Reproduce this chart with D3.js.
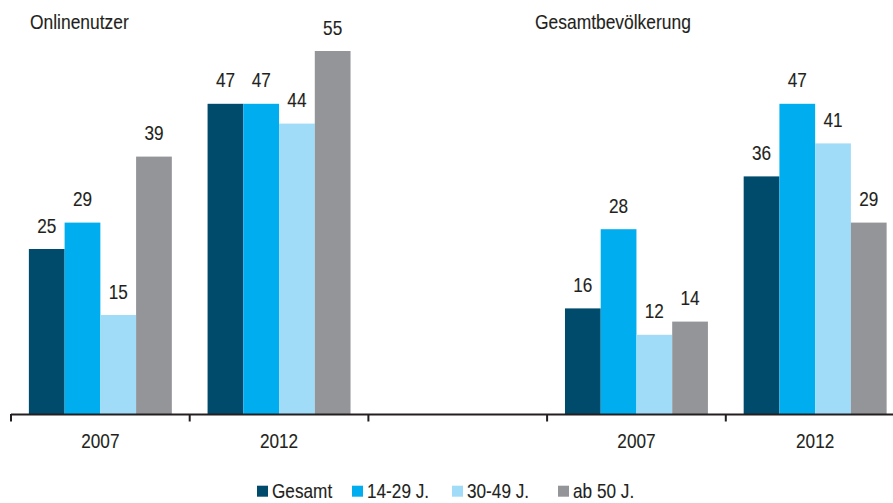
<!DOCTYPE html>
<html>
<head>
<meta charset="utf-8">
<script src="https://cdn.jsdelivr.net/npm/d3@7"></script>
<style>
  html, body { margin: 0; padding: 0; background: #fff; }
  svg { display: block; }
  text { font-family: "Liberation Sans", Arial, sans-serif; fill: #231f20; stroke: #231f20; stroke-width: 0.12px; }
</style>
</head>
<body>
<svg id="chart" width="893" height="503"></svg>
<script>
// ---- data ----
const slots = ["Online 2007", "Online 2012", "gap", "Gesamt 2007", "Gesamt 2012"];
const slotLabels = ["2007", "2012", "", "2007", "2012"];
const panelTitles = ["Onlinenutzer", "Gesamtbevölkerung"];
const seriesNames = ["Gesamt", "14-29 J.", "30-49 J.", "ab 50 J."];
const seriesColors = ["#004a6b", "#00aeef", "#a0dcf7", "#949599"];
const gesamt = [25, 47, null, 16, 36];
const age14_29 = [29, 47, null, 28, 47];
const age30_49 = [15, 44, null, 12, 41];
const ab50 = [39, 55, null, 14, 29];
const seriesValues = [gesamt, age14_29, age30_49, ab50];

// ---- layout ----
const svg = d3.select("#chart");
const W = 893, H = 503;
const baseY = 414;
const SX = 0.86;   // horizontal condensing of the text

const x = d3.scaleBand().domain(slots).range([11, 904.5]).paddingInner(0).paddingOuter(0);
const xs = d3.scaleBand().domain(seriesNames).range([0, x.bandwidth()]).paddingInner(0).paddingOuter(0.5);
const y = d3.scaleLinear().domain([0, 55]).range([baseY, 51]);

function place(sel, fx, fy, sx) {
  sel.attr("transform", (d, i) => `translate(${fx(d, i)},${fy(d, i)}) scale(${sx},1)`);
}

// bars
const rows = [];
slots.forEach((s, i) => {
  seriesNames.forEach((n, j) => {
    const v = seriesValues[j][i];
    if (v != null) rows.push({ slot: s, series: n, value: v, color: seriesColors[j] });
  });
});

const g = svg.append("g");
g.selectAll("rect.bar").data(rows).enter().append("rect")
  .attr("class", "bar")
  .attr("x", d => x(d.slot) + xs(d.series))
  .attr("width", xs.bandwidth())
  .attr("y", d => y(d.value))
  .attr("height", d => baseY - y(d.value))
  .attr("fill", d => d.color);

g.selectAll("text.val").data(rows).enter().append("text")
  .attr("class", "val")
  .attr("text-anchor", "middle")
  .attr("font-size", 20)
  .text(d => d.value)
  .call(place, d => x(d.slot) + xs(d.series) + xs.bandwidth() / 2, d => y(d.value) - 16.5, SX);

// axis line
svg.append("line")
  .attr("x1", x(slots[0])).attr("x2", W)
  .attr("y1", baseY + 0.5).attr("y2", baseY + 0.5)
  .attr("stroke", "#231f20").attr("stroke-width", 2);

svg.selectAll("line.tick").data(slots).enter().append("line")
  .attr("class", "tick")
  .attr("x1", d => x(d)).attr("x2", d => x(d))
  .attr("y1", baseY).attr("y2", baseY + 7.5)
  .attr("stroke", "#231f20").attr("stroke-width", 2);

svg.selectAll("text.xl").data(slots).enter().append("text")
  .attr("class", "xl")
  .attr("text-anchor", "middle")
  .attr("font-size", 20)
  .text((d, i) => slotLabels[i])
  .call(place, d => x(d) + x.bandwidth() / 2, () => 447.5, SX);

// panel titles
const titleX = [30, 535];
svg.selectAll("text.title").data(panelTitles).enter().append("text")
  .attr("class", "title")
  .attr("font-size", 20.5)
  .text(d => d)
  .call(place, (d, i) => titleX[i], () => 28.7, 0.85);

// legend
const legX = [257, 352, 452, 558];
const leg = svg.selectAll("g.leg").data(seriesNames).enter().append("g")
  .attr("class", "leg")
  .attr("transform", (d, i) => `translate(${legX[i]},0)`);
leg.append("rect").attr("x", 0).attr("y", 485.7).attr("width", 11).attr("height", 11)
  .attr("fill", (d, i) => seriesColors[i]);
leg.append("text").attr("font-size", 20).text(d => d)
  .call(place, () => 15, () => 497.5, SX);
</script>
</body>
</html>
